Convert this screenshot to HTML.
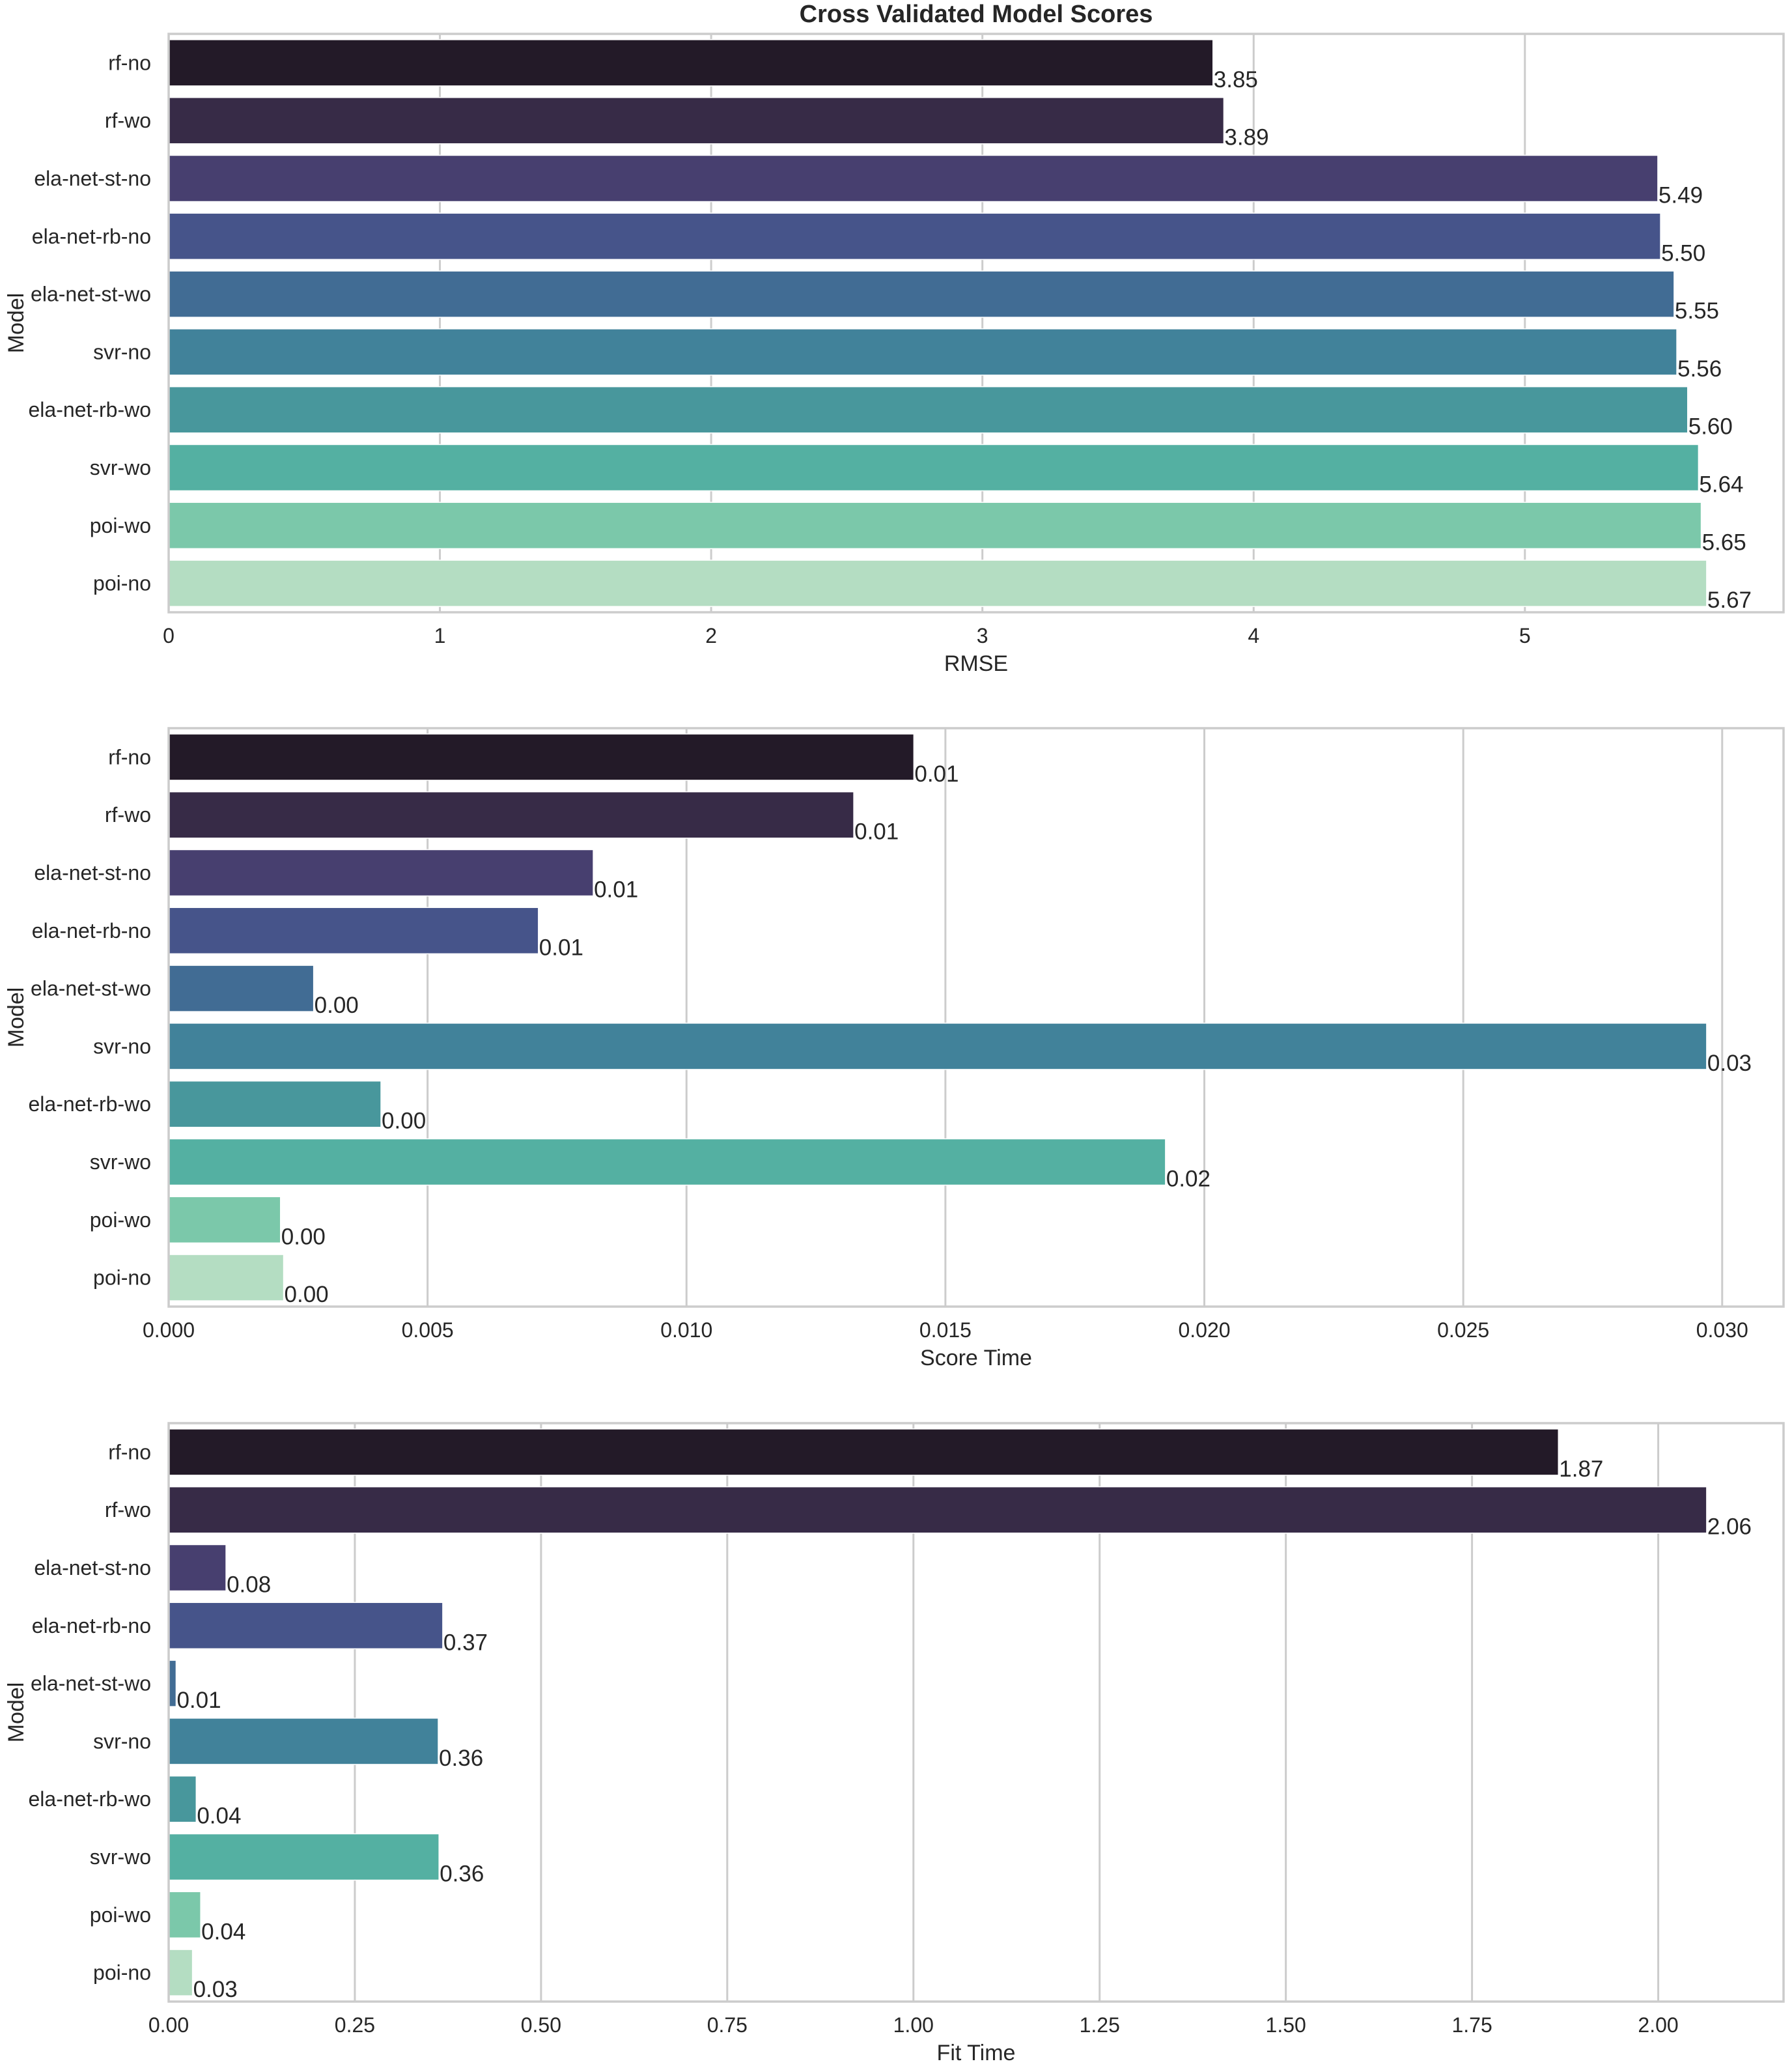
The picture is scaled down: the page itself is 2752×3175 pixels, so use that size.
<!DOCTYPE html>
<html><head><meta charset="utf-8"><style>
html,body{margin:0;padding:0;background:#fff;}
svg{display:block;font-family:"Liberation Sans",Arial,sans-serif;}
</style></head><body>
<svg id="fig" width="2752" height="3175" viewBox="0 0 2752 3175" xmlns="http://www.w3.org/2000/svg">
<rect x="0" y="0" width="2752" height="3175" fill="#ffffff"/>
<text x="1499" y="34" text-anchor="middle" font-size="38" font-weight="bold" fill="#262626">Cross Validated Model Scores</text>
</svg>
<script>
const models = ["rf-no","rf-wo","ela-net-st-no","ela-net-rb-no","ela-net-st-wo","svr-no","ela-net-rb-wo","svr-wo","poi-wo","poi-no"];
const rmseValues = [3.85,3.89,5.49,5.50,5.55,5.56,5.60,5.64,5.65,5.67];
const scoreTimeValues = [0.01439,0.01323,0.0082,0.00714,0.0028,0.0297,0.0041,0.01925,0.00216,0.00222];
const fitTimeValues = [1.866,2.065,0.077,0.368,0.01,0.362,0.037,0.363,0.043,0.032];
const rmseTicks = ["0","1","2","3","4","5"];
const scoreTicks = ["0.000","0.005","0.010","0.015","0.020","0.025","0.030"];
const fitTicks = ["0.00","0.25","0.50","0.75","1.00","1.25","1.50","1.75","2.00"];
const palette = ["#231a28","#372b47","#473f6f","#46548a","#416c94","#41829a","#48979c","#54b0a2","#7bc8aa","#b4ddc2"];

const NS="http://www.w3.org/2000/svg";
const svg=document.getElementById('fig');
function mk(tag,attrs,parent){const e=document.createElementNS(NS,tag);for(const k in attrs)e.setAttribute(k,attrs[k]);(parent||svg).appendChild(e);return e;}

function drawPanel(id,top,values,ticks,xlabel){
  const L=259,R=2739,H=888,B=top+H;
  const maxV=Math.max(...values)*1.05;
  const xs=v=>L+(v/maxV)*(R-L);
  const g=mk('g',{});
  
  
  ticks.forEach(t=>{
    const v=parseFloat(t);const x=xs(v);
    const ln=mk('line',{x1:x,x2:x,y1:top,y2:B,stroke:'#cccccc','stroke-width':3},g);
    
    
    const tx=mk('text',{x:x,y:B+47,'text-anchor':'middle','font-size':32,fill:'#262626'},g);
    tx.textContent=t;
    
    
  });
  const slot=H/values.length;
  values.forEach((v,i)=>{
    const y0=top+slot*i+slot*0.1, bh=slot*0.8;
    const r=mk('rect',{x:L,y:y0,width:xs(v)-L,height:bh,fill:palette[i],stroke:'#ffffff','stroke-width':1.5},g);
    
    
    const lb=mk('text',{x:xs(v)+1,y:y0+bh+2,'font-size':35,fill:'#262626'},g);
    lb.textContent=v.toFixed(2);
    
    
    const yl=mk('text',{x:232,y:y0+bh/2+11,'text-anchor':'end','font-size':32,fill:'#262626'},g);
    yl.textContent=models[i];
    
    
  });
  const fr=mk('rect',{x:L,y:top,width:R-L,height:H,fill:'none',stroke:'#cccccc','stroke-width':3.5},g);
  
  
  const xl=mk('text',{x:(L+R)/2,y:B+90,'text-anchor':'middle','font-size':34,fill:'#262626'},g);
  xl.textContent=xlabel;
  
  
  const cy=top+H/2;
  const ylab=mk('text',{x:36,y:cy,'text-anchor':'middle','font-size':34,fill:'#262626',transform:'rotate(-90 36 '+cy+')'},g);
  ylab.textContent='Model';
  
  
}
drawPanel('rmse',52,rmseValues,rmseTicks,'RMSE');
drawPanel('score-time',1118,scoreTimeValues,scoreTicks,'Score Time');
drawPanel('fit-time',2185,fitTimeValues,fitTicks,'Fit Time');
</script>
</body></html>
